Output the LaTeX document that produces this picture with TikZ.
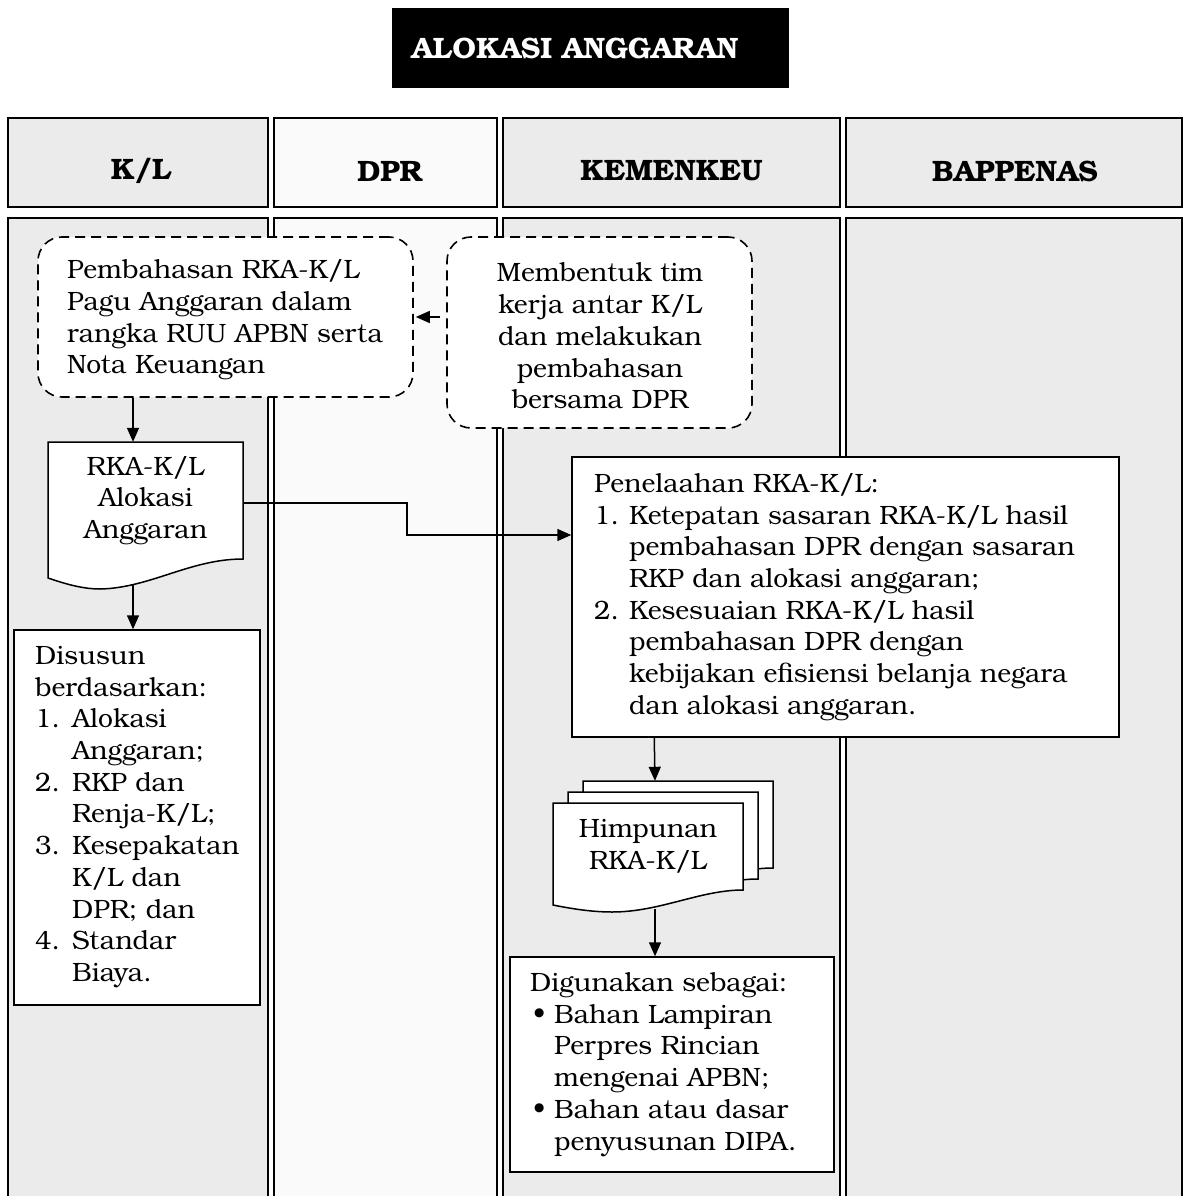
\documentclass[tikz,border=0pt]{standalone}
\usepackage{fontspec}
\setmainfont{texgyrebonum}[Extension=.otf,UprightFont=*-regular,BoldFont=*-bold,ItalicFont=*-italic,BoldItalicFont=*-bolditalic]
\usetikzlibrary{arrows.meta,calc}
\begin{document}
\begin{tikzpicture}[x=1pt,y=-1pt,
  colgray/.style={fill=black!8,draw=black,line width=1.7pt},
  collight/.style={fill=black!2,draw=black,line width=1.7pt},
  dbox/.style={draw,fill=white,line width=1.6pt,dash pattern=on 10pt off 6pt,rounded corners=24pt,inner sep=0pt},
  wbox/.style={draw,fill=white,line width=1.5pt,inner sep=0pt},
  docline/.style={draw,fill=white,line width=1.5pt},
  txt/.style={font=\fontsize{26.5}{31.7}\selectfont,inner sep=0pt},
  head/.style={font=\fontsize{29.5}{32}\selectfont\bfseries,inner sep=0pt},
  arr/.style={-{Triangle[length=14pt,width=12pt]},line width=1.5pt}]
\useasboundingbox (0,0) rectangle (1183,1196);
\clip (0,0) rectangle (1183,1196);
% title
\node[fill=black,minimum width=397pt,minimum height=80pt,inner sep=0pt] (title) at (590.5,48) {};
\node[text=white,inner sep=0pt,font=\fontsize{29.5}{32}\selectfont\bfseries] (titletext) at (575,48) {ALOKASI ANGGARAN};
% columns
\draw[colgray]  (8,118) rectangle (268,207);
\draw[collight] (274,118) rectangle (497,207);
\draw[colgray]  (503,118) rectangle (840,207);
\draw[colgray]  (846,118) rectangle (1182,207);
\draw[colgray]  (8,218) rectangle (268,1215);
\draw[collight] (274,218) rectangle (497,1215);
\draw[colgray]  (503,218) rectangle (840,1215);
\draw[colgray]  (846,218) rectangle (1182,1215);
\node[head] (hKL) at (141,171) {K/L};
\node[head] (hDPR) at (390,171) {DPR};
\node[head] (hKEU) at (671.5,171) {KEMENKEU};
\node[head] (hBAP) at (1015,171) {BAPPENAS};
% dashed boxes
\node[dbox,minimum width=375pt,minimum height=160pt] (A) at (225.5,317) {};
\node[txt,anchor=west,align=left] (At) at (67,320) {Pembahasan RKA-K/L\\Pagu Anggaran dalam\\rangka RUU APBN serta\\Nota Keuangan};
\node[dbox,minimum width=305pt,minimum height=191pt] (B) at (599.5,332.5) {};
\node[txt,align=center] (Bt) at (600,336) {Membentuk tim\\kerja antar K/L\\dan melakukan\\pembahasan\\bersama DPR};
\draw[arr] ($(B.west|-A.east)+(-6,0)$) -- ($(A.east)+(2,0)$);
% document C
\draw[docline] (48,442) -- (243,442) -- (243,559) .. controls (190,559) and (150,588) .. (100,589) .. controls (80,589) and (60,582) .. (48,578) -- cycle;
\node[txt,align=center,minimum width=195pt,minimum height=117pt] (C) at (145.5,500.5) {RKA-K/L\\Alokasi\\Anggaran};
\draw[arr] ($(A.south-|C.north)+(-12.5,0)$) -- ($(C.north)+(-12.5,0)$);
% box D
\node[wbox,minimum width=246pt,minimum height=375pt] (D) at (137,817.5) {};
\node[txt,anchor=west,align=left] (Dt) at (35,817) {Disusun\\berdasarkan:\\\makebox[37pt][l]{1.}Alokasi\\\makebox[37pt][l]{}Anggaran;\\\makebox[37pt][l]{2.}RKP dan\\\makebox[37pt][l]{}Renja-K/L;\\\makebox[37pt][l]{3.}Kesepakatan\\\makebox[37pt][l]{}K/L dan\\\makebox[37pt][l]{}DPR; dan\\\makebox[37pt][l]{4.}Standar\\\makebox[37pt][l]{}Biaya.};
\draw[arr] ($(C.south)+(-12.5,26)$) -- ($(D.north)+(-4,0)$);
% box E
\node[wbox,minimum width=547pt,minimum height=280pt] (E) at (845.5,597) {};
\node[txt,anchor=west,align=left] (Et) at (594,597) {Penelaahan RKA-K/L:\\\makebox[35pt][l]{1.}Ketepatan sasaran RKA-K/L hasil\\\makebox[35pt][l]{}pembahasan DPR dengan sasaran\\\makebox[35pt][l]{}RKP dan alokasi anggaran;\\\makebox[35pt][l]{2.}Kesesuaian RKA-K/L hasil\\\makebox[35pt][l]{}pembahasan DPR dengan\\\makebox[35pt][l]{}kebijakan efisiensi belanja negara\\\makebox[35pt][l]{}dan alokasi anggaran.};
\draw[arr] ($(C.east)+(0,2.5)$) -- ++(164,0) |- ($(E.west)+(0,-62)$);
% documents F
\draw[docline,shift={(30,-22)}] (553,803) -- (743,803) -- (743,890) .. controls (700,890) and (660,912) .. (612,912) .. controls (590,912) and (568,908) .. (553,905) -- cycle;
\draw[docline,shift={(15,-11)}] (553,803) -- (743,803) -- (743,890) .. controls (700,890) and (660,912) .. (612,912) .. controls (590,912) and (568,908) .. (553,905) -- cycle;
\draw[docline] (553,803) -- (743,803) -- (743,890) .. controls (700,890) and (660,912) .. (612,912) .. controls (590,912) and (568,908) .. (553,905) -- cycle;
\node[txt,align=center,minimum width=190pt,minimum height=87pt] (F) at (648,846.5) {Himpunan\\RKA-K/L};
\draw[arr] ($(E.south west)+(83,0)$) -- ($(F.north)+(7,-22)$);
% box G
\node[wbox,minimum width=324pt,minimum height=215pt] (G) at (672,1064.5) {};
\node[txt,anchor=west,align=left] (Gt) at (530,1064.5) {Digunakan sebagai:\\\makebox[24pt][l]{\hspace{3pt}\textbullet}Bahan Lampiran\\\makebox[24pt][l]{}Perpres Rincian\\\makebox[24pt][l]{}mengenai APBN;\\\makebox[24pt][l]{\hspace{3pt}\textbullet}Bahan atau dasar\\\makebox[24pt][l]{}penyusunan DIPA.};
\draw[arr] ($(F.south)+(7,19)$) -- ($(G.north)+(-17,0)$);
\end{tikzpicture}
\end{document}
